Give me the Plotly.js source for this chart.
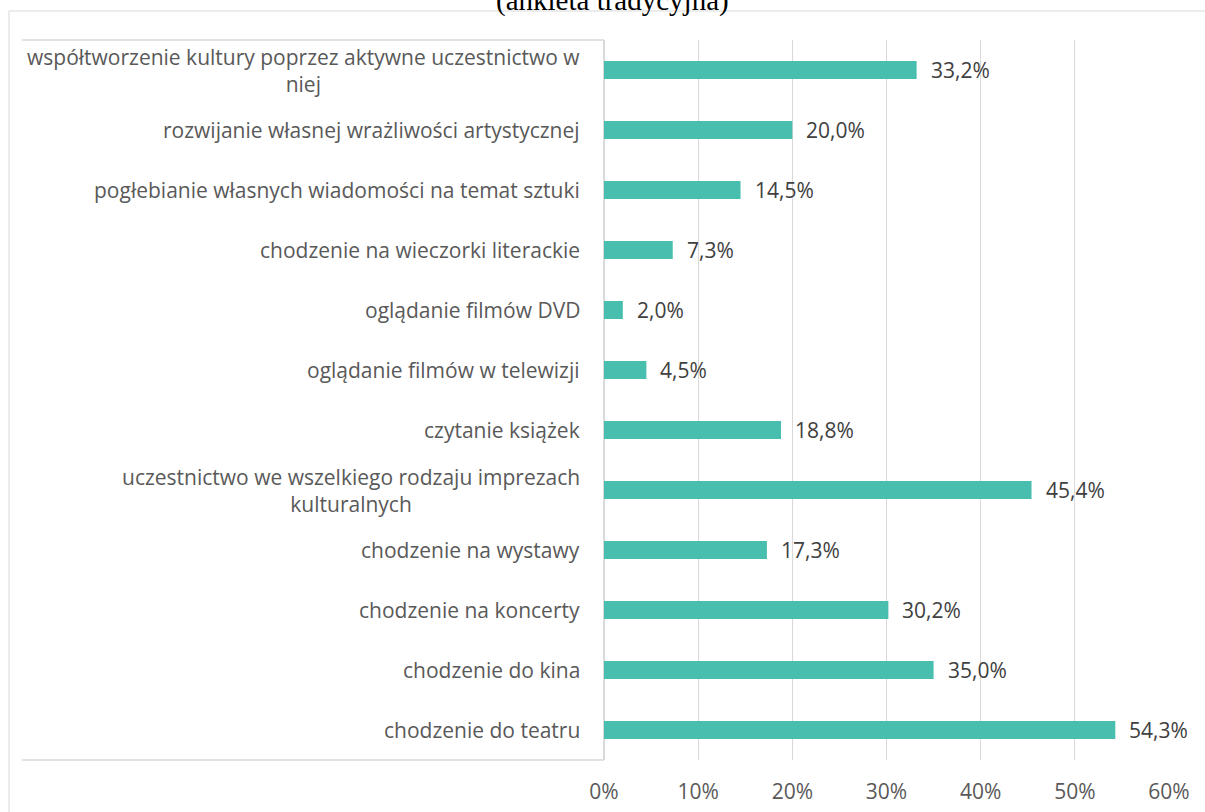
<!DOCTYPE html>
<html>
<head>
<meta charset="utf-8">
<script src="https://cdn.plot.ly/plotly-3.0.1.min.js"></script>
<style>
html,body{margin:0;padding:0;background:#fff;}
#chart{width:1205px;height:812px;}
</style>
</head>
<body>
<div id="chart"></div>
<script>
// Categories listed top to bottom as in the reference
var categories = [
  "współtworzenie kultury poprzez aktywne uczestnictwo w<br>niej",
  "rozwijanie własnej wrażliwości artystycznej",
  "pogłebianie własnych wiadomości na temat sztuki",
  "chodzenie na wieczorki literackie",
  "oglądanie filmów DVD",
  "oglądanie filmów w telewizji",
  "czytanie książek",
  "uczestnictwo we wszelkiego rodzaju imprezach<br>kulturalnych",
  "chodzenie na wystawy",
  "chodzenie na koncerty",
  "chodzenie do kina",
  "chodzenie do teatru"
];
var values = [33.2, 20.0, 14.5, 7.3, 2.0, 4.5, 18.8, 45.4, 17.3, 30.2, 35.0, 54.3];
var xTickValues = [0, 10, 20, 30, 40, 50, 60];
var xTickLabels = ["0%", "10%", "20%", "30%", "40%", "50%", "60%"];
var titleText = "(ankieta tradycyjna)";

var W = 1205, H = 812;
var M = {l: 604, r: 36, t: 40, b: 52};
var PW = W - M.l - M.r, PH = H - M.t - M.b;
function px(x){ return (x - M.l) / PW; }
function py(y){ return (H - M.b - y) / PH; }

var LABEL_FONT = "'Open Sans', Lato, sans-serif";
var FS = 21;
var borderColor = "#d9d9d9";

var annotations = [];
categories.forEach(function(c){
  annotations.push({
    xref: "paper", yref: "y", x: 0, y: c,
    xanchor: "right", yanchor: "middle", xshift: -22,
    text: c, align: "center", showarrow: false,
    font: {family: LABEL_FONT, size: FS, color: "#595959"}
  });
});
values.forEach(function(v, i){
  annotations.push({
    xref: "x", yref: "y", x: v, y: categories[i],
    xanchor: "left", yanchor: "middle", xshift: 12,
    text: v.toFixed(1).replace(".", ",") + "%", showarrow: false,
    font: {family: LABEL_FONT, size: FS, color: "#404040"}
  });
});
annotations.push({
  xref: "paper", yref: "paper", x: px(612), y: 1,
  xanchor: "center", yanchor: "middle", yshift: 40,
  text: titleText, showarrow: false,
  font: {family: "'Liberation Serif', 'Times New Roman', serif", size: 29, color: "#000"}
});

var shapes = [
  // outer chart border (top and left)
  {type: "line", xref: "paper", yref: "paper", x0: px(9), x1: px(1210), y0: py(11), y1: py(11), line: {color: borderColor, width: 1}},
  {type: "line", xref: "paper", yref: "paper", x0: px(9), x1: px(9), y0: py(11), y1: py(820), line: {color: borderColor, width: 1}},
  // label box top and bottom
  {type: "line", xref: "paper", yref: "paper", x0: px(22), x1: 0, y0: 1, y1: 1, line: {color: borderColor, width: 1.3}},
  {type: "line", xref: "paper", yref: "paper", x0: px(22), x1: 0, y0: 0, y1: 0, line: {color: borderColor, width: 1.3}}
];

var trace = {
  type: "bar", orientation: "h",
  x: values, y: categories,
  marker: {color: "#48BEAF"},
  hoverinfo: "skip"
};

var layout = {
  width: W, height: H,
  margin: M,
  paper_bgcolor: "#fff", plot_bgcolor: "#fff",
  showlegend: false,
  bargap: 0.7,
  separators: ", ",
  xaxis: {
    range: [0, 60], tickmode: "array", tickvals: xTickValues, ticktext: xTickLabels,
    showgrid: true, gridcolor: borderColor, gridwidth: 1.3,
    zeroline: true, zerolinecolor: borderColor, zerolinewidth: 1.3,
    showline: false, ticks: "", ticklabelstandoff: 17,
    tickfont: {family: LABEL_FONT, size: FS, color: "#595959"},
    fixedrange: true
  },
  yaxis: {
    type: "category", autorange: "reversed",
    showticklabels: false, showgrid: false, zeroline: false, showline: false, ticks: "",
    fixedrange: true
  },
  annotations: annotations,
  shapes: shapes
};

Plotly.newPlot("chart", [trace], layout, {displayModeBar: false, staticPlot: true});
</script>
</body>
</html>
